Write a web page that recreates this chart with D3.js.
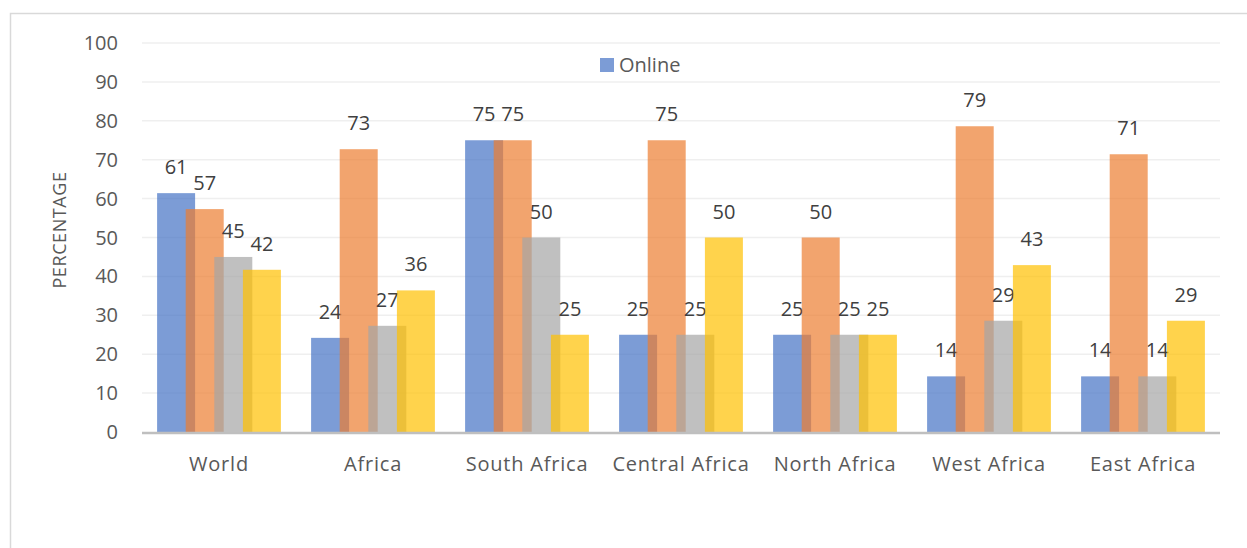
<!DOCTYPE html>
<html>
<head>
<meta charset="utf-8">
<script src="https://d3js.org/d3.v7.min.js"></script>
<style>
  body { margin: 0; background: #fff; }
  text { font-family: "Open Sans", sans-serif; }
</style>
</head>
<body>
<svg id="chart" width="1247" height="548"></svg>
<script>
var regions = ["World", "Africa", "South Africa", "Central Africa", "North Africa", "West Africa", "East Africa"]
var online = [61.4, 24.2, 75, 25, 25, 14.3, 14.3]
var series2 = [57.3, 72.7, 75, 75, 50, 78.6, 71.4]
var series3 = [45, 27.3, 50, 25, 25, 28.6, 14.3]
var series4 = [41.7, 36.4, 25, 50, 25, 42.9, 28.6]
var yTicks = [0, 10, 20, 30, 40, 50, 60, 70, 80, 90, 100]
var legendNames = ["Online"]

var seriesList = [online, series2, series3, series4]
var colors = ["#4472C4", "#ED7D31", "#A5A5A5", "#FFC000"]

var svg = d3.select("#chart")

// chart border
svg.append("rect").attr("x", 10.5).attr("y", 13.5).attr("width", 1250).attr("height", 560)
    .attr("fill", "none").attr("stroke", "#d9d9d9").attr("stroke-width", 1.5)

var plotLeft = 142, plotRight = 1220, plotTop = 43, plotBottom = 432

var x = d3.scaleBand().domain(regions).range([plotLeft, plotRight])
var y = d3.scaleLinear().domain([0, 100]).range([plotBottom, plotTop])

var barW = 38, barStep = 28.6

// gridlines
svg.append("g").selectAll("line").data(yTicks.slice(1)).enter().append("line")
    .attr("x1", plotLeft).attr("x2", plotRight)
    .attr("y1", function(d) { return y(d) }).attr("y2", function(d) { return y(d) })
    .attr("stroke", "#efefef").attr("stroke-width", 1.5)

// y tick labels
svg.append("g").selectAll("text").data(yTicks).enter().append("text")
    .attr("x", 118).attr("y", function(d) { return y(d) + 7 })
    .attr("text-anchor", "end").attr("font-size", 20).attr("fill", "#595959")
    .text(function(d) { return d })

svg.append("text").attr("transform", "translate(66,230) rotate(-90)")
    .attr("text-anchor", "middle").attr("font-size", 18).attr("letter-spacing", 0.6).attr("fill", "#595959")
    .text("PERCENTAGE")

// bars
seriesList.forEach(function(vals, s) {
    var g = svg.append("g")
    var groupW = barW + barStep * 3
    function bx(i) { return x(regions[i]) + x.bandwidth() / 2 - groupW / 2 + s * barStep }
    g.selectAll("rect").data(vals).enter().append("rect")
        .attr("x", function(d, i) { return bx(i) })
        .attr("y", function(d) { return y(d) })
        .attr("width", barW)
        .attr("height", function(d) { return plotBottom - y(d) })
        .attr("fill", colors[s]).attr("fill-opacity", 0.7)
    g.selectAll("text").data(vals).enter().append("text")
        .attr("x", function(d, i) { return bx(i) + barW / 2 })
        .attr("y", function(d) { return y(d) - 19 })
        .attr("text-anchor", "middle").attr("font-size", 20).attr("fill", "#404040")
        .text(function(d) { return Math.round(d) })
})

// x axis line
svg.append("line").attr("x1", plotLeft).attr("x2", plotRight).attr("y1", plotBottom + 1).attr("y2", plotBottom + 1)
    .attr("stroke", "#bfbfbf").attr("stroke-width", 2.5)

svg.append("g").selectAll("text").data(regions).enter().append("text")
    .attr("x", function(d) { return x(d) + x.bandwidth() / 2 })
    .attr("y", 471)
    .attr("text-anchor", "middle").attr("font-size", 20).attr("letter-spacing", 0.8).attr("fill", "#595959")
    .text(function(d) { return d })

// legend
var lg = svg.append("g").selectAll("g").data(legendNames).enter().append("g")
lg.append("rect").attr("x", 600).attr("y", 58).attr("width", 14).attr("height", 14)
    .attr("fill", colors[0]).attr("fill-opacity", 0.7)
lg.append("text").attr("x", 619).attr("y", 72).attr("font-size", 20).attr("fill", "#595959")
    .text(function(d) { return d })
</script>
</body>
</html>
